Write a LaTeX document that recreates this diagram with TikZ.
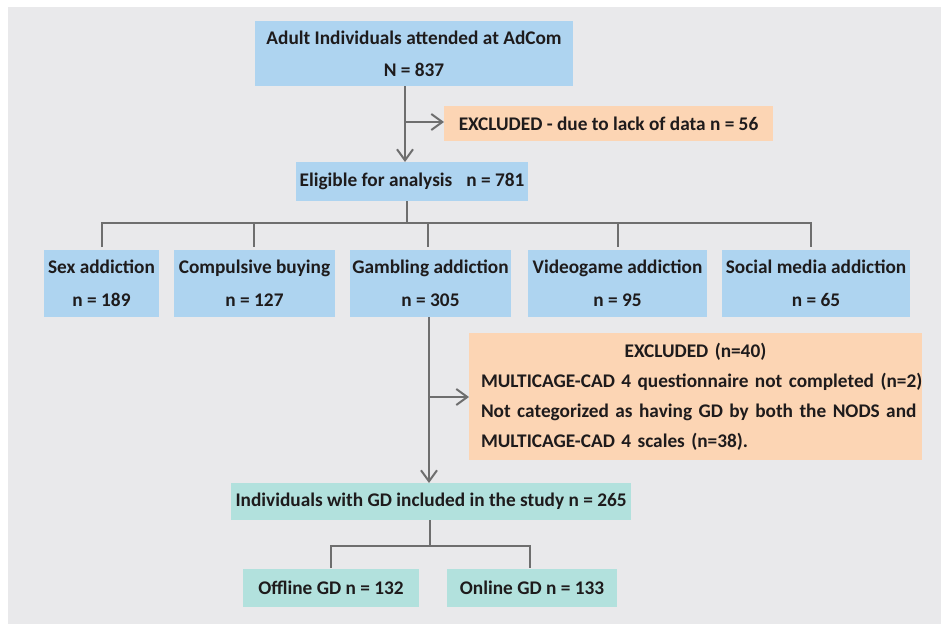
\documentclass[tikz,border=0pt]{standalone}
\usepackage{fontspec}
\setmainfont{Carlito}
\usetikzlibrary{arrows.meta}
\definecolor{cblue}{RGB}{174,212,240}
\definecolor{cpeach}{RGB}{252,213,180}
\definecolor{cteal}{RGB}{178,225,221}
\definecolor{cbg}{RGB}{233,233,235}
\definecolor{cline}{RGB}{110,110,110}
\definecolor{txt}{RGB}{30,27,28}
\tikzset{
  box/.style={inner sep=0pt, outer sep=0pt, align=center, text=txt, font=\bfseries\fontsize{19.3}{23}\selectfont},
  bluebox/.style={box, fill=cblue},
  peachbox/.style={box, fill=cpeach},
  tealbox/.style={box, fill=cteal},
  twoline/.style={font=\bfseries\fontsize{19.3}{#1}\selectfont},
  sz/.style 2 args={minimum width=#1pt, minimum height=#2pt},
  conn/.style={draw=cline, line width=2pt},
  arr/.style={conn, -{Straight Barb[length=11pt,width=16pt]}},
}
\begin{document}
\begin{tikzpicture}[x=1pt,y=-1pt]
\useasboundingbox (0,0) rectangle (941,624);
\fill[white] (0,0) rectangle (941,624);
\fill[cbg] (8,7) rectangle (941,624);

% nodes
\node[bluebox, sz={318}{65}, twoline=32] (adult) at (414,53.5) {Adult Individuals attended at AdCom\\N = 837};
\node[peachbox, sz={329}{35}] (exA) at (608.5,123.5) {EXCLUDED - due to lack of data n = 56};
\node[bluebox, sz={232}{39}] (elig) at (412,181.5) {Eligible for analysis\hspace{14pt}n = 781};

\node[bluebox, sz={115}{67}, twoline=33] (sex) at (101.5,283.5) {Sex addiction\\n = 189};
\node[bluebox, sz={161}{67}, twoline=33] (comp) at (254.5,283.5) {Compulsive buying\\n = 127};
\node[bluebox, sz={161}{67}, twoline=33] (gamb) at (430.5,283.5) {Gambling addiction\\n = 305};
\node[bluebox, sz={179}{67}, twoline=33] (video) at (617.5,283.5) {Videogame addiction\\n = 95};
\node[bluebox, sz={188}{67}, twoline=33] (social) at (816,283.5) {Social media addiction\\n = 65};

\node[peachbox, sz={453}{127}, twoline=30, align=left, text width=429pt, inner xsep=12pt] (exB) at (695.5,396.5)
  {\makebox[\linewidth]{EXCLUDED (n=40)}\\
   \mbox{MULTICAGE-CAD 4 questionnaire not completed (n=2)}\\
   \mbox{Not categorized as having GD by both the NODS and}\\
   \mbox{MULTICAGE-CAD 4 scales (n=38).}};

\node[tealbox, sz={400}{37}] (indiv) at (431,501.5) {Individuals with GD included in the study n = 265};
\node[tealbox, sz={176}{38}] (off) at (331,588) {Offline GD n = 132};
\node[tealbox, sz={170}{38}] (on) at (532,588) {Online GD n = 133};

% connectors
\coordinate (j1) at (405,122);
\draw[arr] (adult.south -| j1) -- (elig.north -| j1);
\draw[arr] (j1) -- (exA.west |- j1);

\coordinate (b1) at (407,223);
\coordinate (dsex) at (102,223);
\coordinate (dcomp) at (254,223);
\coordinate (dgamb) at (428,223);
\coordinate (dvideo) at (618,223);
\coordinate (dsocial) at (811,223);
\draw[conn] (elig.south -| b1) -- (b1);
\draw[conn, line join=miter, shorten <=3pt, shorten >=3pt] (dsex |- sex.north) -- (dsex) -- (dsocial) -- (dsocial |- social.north);
\draw[conn, shorten >=3pt] (dcomp) -- (dcomp |- comp.north);
\draw[conn, shorten >=3pt] (dgamb) -- (dgamb |- gamb.north);
\draw[conn, shorten >=3pt] (dvideo) -- (dvideo |- video.north);

\coordinate (g) at (429,397);
\draw[arr] (gamb.south -| g) -- (indiv.north -| g);
\draw[arr] (g) -- (exB.west |- g);

\coordinate (i1) at (430,546);
\coordinate (dl) at (331,546);
\coordinate (dr) at (530,546);
\draw[conn] (indiv.south -| i1) -- (i1);
\draw[conn, line join=miter, shorten <=1pt, shorten >=1pt] (dl |- off.north) -- (dl) -- (dr) -- (dr |- on.north);
\end{tikzpicture}
\end{document}
